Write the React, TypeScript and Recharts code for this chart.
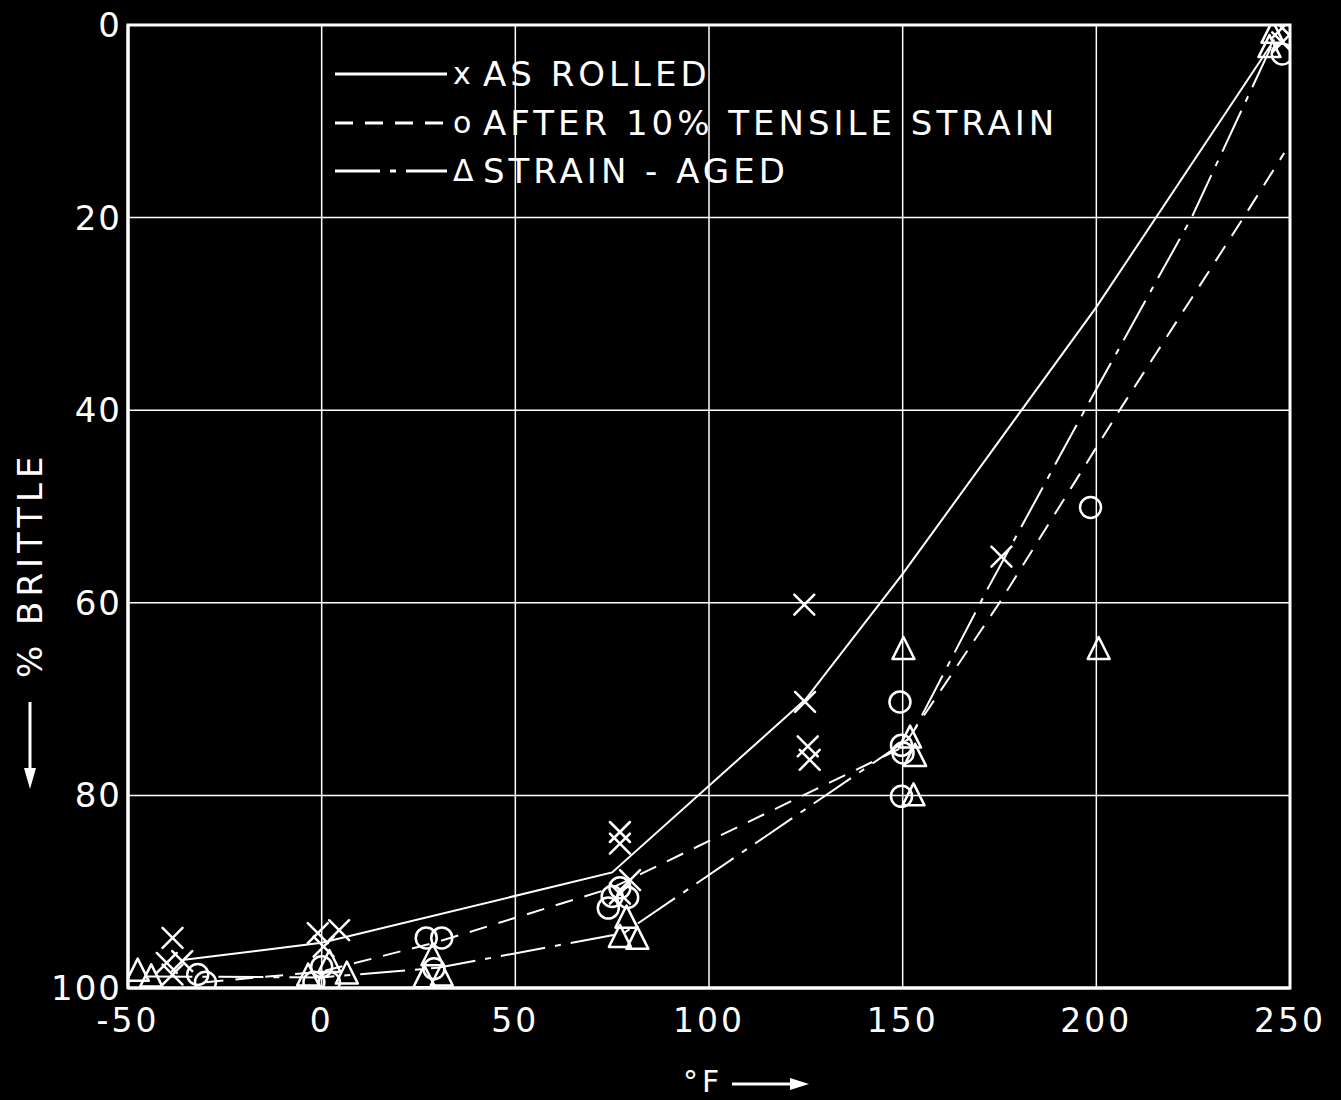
import React from "react";
import {
  ComposedChart,
  Line,
  Scatter,
  XAxis,
  YAxis,
  CartesianGrid,
  ReferenceArea,
  Legend,
  Label,
} from "recharts";

// Temperature (°F) vs % brittle
const X_TICKS = [-50, 0, 50, 100, 150, 200, 250];
const Y_TICKS = [0, 20, 40, 60, 80, 100];

// Measured points: [°F, % brittle]
const AS_ROLLED_PTS = [
  [-38.5, 94.8], [-40, 97.4], [-36, 97.2], [-38.5, 98.6],
  [-1, 94.3], [4.5, 94], [0.5, 95.7],
  [77, 83.8], [77, 85], [79.6, 88.8], [77, 90.2],
  [124.6, 60.2], [124.8, 70.3], [125.5, 74.9], [126, 76.3],
  [175.5, 55.2],
  [248, 0.3], [248, 1.8],
];
const AFTER_STRAIN_PTS = [
  [-32, 98.6], [-30, 99.4],
  [0, 97.8], [-2, 99.4], [2, 99.4],
  [27, 94.8], [31, 94.8], [29, 98],
  [74, 91.7], [75, 90.5], [77, 89.6], [79, 90.6],
  [149.3, 70.3], [149.7, 74.8], [150.1, 75.6], [149.7, 80.1],
  [198.5, 50.1],
  [248, 3],
];
const STRAIN_AGED_PTS = [
  [-47.5, 98.3], [-44, 98.9],
  [-3.5, 98.8], [2, 97.4], [6.5, 98.6],
  [26.5, 99], [31, 98.8], [28.6, 96.7],
  [78.7, 92.8], [77, 94.8], [81.5, 95],
  [150.2, 64.9], [151.9, 74.1], [153.2, 76], [152.8, 80.1],
  [200.6, 64.9],
  [245.5, 0.9], [244.7, 2.4],
];

// Hand-faired curves
const AS_ROLLED_CURVE = [
  [-36, 97.1], [0, 95.3], [75, 88], [125, 70], [150, 57], [200, 29.3], [246, 1.5],
];
const AFTER_STRAIN_CURVE = [
  [-30, 99.4], [0, 98.3], [30, 95.2], [75, 89.6], [150, 75], [175, 60], [206, 40], [238, 20], [248.5, 13.3],
];
const STRAIN_AGED_CURVE = [
  [-45, 98.8], [0, 98.9], [30, 97.9], [78, 94.3], [152, 74], [172, 58.5], [197, 40], [224.6, 20], [246, 1.5],
];

const toRows = (pts: number[][]) => pts.map(([x, y]) => ({ x, y }));

const FONT = '"DejaVu Sans", "Liberation Sans", sans-serif';
const WHITE = "#fff";
const DASHED = "18 12";
const DASH_DOT = "45 10 6 10";

const LEGEND_ITEMS = [
  { label: "AS ROLLED", symbol: "x", dash: undefined },
  { label: "AFTER 10% TENSILE STRAIN", symbol: "o", dash: DASHED },
  { label: "STRAIN - AGED", symbol: "Δ", dash: DASH_DOT },
];

function Cross(props: any) {
  const { cx, cy } = props;
  const s = 10;
  return (
    <g stroke={WHITE} strokeWidth={2.5} strokeLinecap="round">
      <line x1={cx - s} y1={cy - s} x2={cx + s} y2={cy + s} />
      <line x1={cx - s} y1={cy + s} x2={cx + s} y2={cy - s} />
    </g>
  );
}

function Ring(props: any) {
  const { cx, cy } = props;
  return <circle cx={cx} cy={cy} r={10.5} fill="none" stroke={WHITE} strokeWidth={2.5} />;
}

function Tri(props: any) {
  const { cx, cy } = props;
  return (
    <polygon
      points={`${cx},${cy - 13} ${cx - 11},${cy + 9} ${cx + 11},${cy + 9}`}
      fill="none"
      stroke={WHITE}
      strokeWidth={2.5}
      strokeLinejoin="round"
    />
  );
}

function LegendBox() {
  return (
    <div style={{ fontFamily: FONT, color: WHITE, fontSize: 34, letterSpacing: 4, lineHeight: 1 }}>
      {LEGEND_ITEMS.map((it) => (
        <div key={it.label} style={{ display: "flex", alignItems: "center", height: 48.5 }}>
          <svg width={118} height={20} style={{ display: "block" }}>
            <line x1={0} x2={112} y1={10} y2={10} stroke={WHITE} strokeWidth={3} strokeDasharray={it.dash} />
          </svg>
          <span style={{ fontSize: 30, letterSpacing: 0, width: 30 }}>{it.symbol}</span>
          <span>{it.label}</span>
        </div>
      ))}
    </div>
  );
}

function YTitle() {
  return (
    <g>
      <text
        transform="rotate(-90, 42, 678)"
        x={42}
        y={678}
        fill={WHITE}
        fontFamily={FONT}
        fontSize={34}
        letterSpacing={5}
      >
        % BRITTLE
      </text>
      <line x1={30} y1={702} x2={30} y2={778} stroke={WHITE} strokeWidth={3} />
      <polygon points="24,768 36,768 30,789" fill={WHITE} />
    </g>
  );
}

function XTitle() {
  return (
    <g>
      <text x={683} y={1092} fill={WHITE} fontFamily={FONT} fontSize={30} letterSpacing={4}>
        °F
      </text>
      <line x1={732} y1={1084} x2={798} y2={1084} stroke={WHITE} strokeWidth={3} />
      <polygon points="790,1078 790,1090 809,1084" fill={WHITE} />
    </g>
  );
}

export default function App() {
  const xTick = { fill: WHITE, fontSize: 33, fontFamily: FONT, letterSpacing: 3 };
  const yTick = { fill: WHITE, fontSize: 34, fontFamily: FONT, letterSpacing: 2 };
  return (
    <div style={{ width: 1341, height: 1100, background: "#000" }}>
      <style>{"body{margin:0;background:#000}"}</style>
      <ComposedChart
        width={1341}
        height={1100}
        margin={{ top: 25, right: 51, bottom: 12, left: 0 }}
      >
        <CartesianGrid stroke={WHITE} strokeWidth={1.5} />
        <XAxis
          type="number"
          dataKey="x"
          domain={[-50, 250]}
          ticks={X_TICKS}
          height={100}
          stroke={WHITE}
          axisLine={{ stroke: WHITE, strokeWidth: 3 }}
          tickLine={false}
          tickSize={0}
          tickMargin={21}
          tick={xTick}
          allowDataOverflow
        >
          <Label content={() => <XTitle />} />
        </XAxis>
        <YAxis
          type="number"
          dataKey="y"
          domain={[0, 100]}
          reversed
          ticks={Y_TICKS}
          width={128}
          stroke={WHITE}
          axisLine={{ stroke: WHITE, strokeWidth: 3 }}
          tickLine={false}
          tickSize={0}
          tickMargin={6}
          tick={yTick}
          allowDataOverflow
        >
          <Label content={() => <YTitle />} />
        </YAxis>
        <ReferenceArea x1={-50} x2={250} y1={0} y2={100} fill="none" stroke={WHITE} strokeWidth={3} />

        <Line
          data={toRows(AS_ROLLED_CURVE)}
          dataKey="y"
          type="linear"
          stroke={WHITE}
          strokeWidth={2}
          dot={false}
          activeDot={false}
          isAnimationActive={false}
          legendType="none"
        />
        <Line
          data={toRows(AFTER_STRAIN_CURVE)}
          dataKey="y"
          type="linear"
          stroke={WHITE}
          strokeWidth={2}
          strokeDasharray={DASHED}
          dot={false}
          activeDot={false}
          isAnimationActive={false}
          legendType="none"
        />
        <Line
          data={toRows(STRAIN_AGED_CURVE)}
          dataKey="y"
          type="linear"
          stroke={WHITE}
          strokeWidth={2}
          strokeDasharray={DASH_DOT}
          dot={false}
          activeDot={false}
          isAnimationActive={false}
          legendType="none"
        />

        <Scatter data={toRows(AS_ROLLED_PTS)} dataKey="y" shape={Cross} isAnimationActive={false} legendType="none" />
        <Scatter data={toRows(AFTER_STRAIN_PTS)} dataKey="y" shape={Ring} isAnimationActive={false} legendType="none" />
        <Scatter data={toRows(STRAIN_AGED_PTS)} dataKey="y" shape={Tri} isAnimationActive={false} legendType="none" />

        <Legend
          layout="vertical"
          align="center"
          verticalAlign="middle"
          content={() => <LegendBox />}
          wrapperStyle={{ position: "absolute", left: 335, top: 50, width: "auto", height: "auto" }}
        />
      </ComposedChart>
    </div>
  );
}
